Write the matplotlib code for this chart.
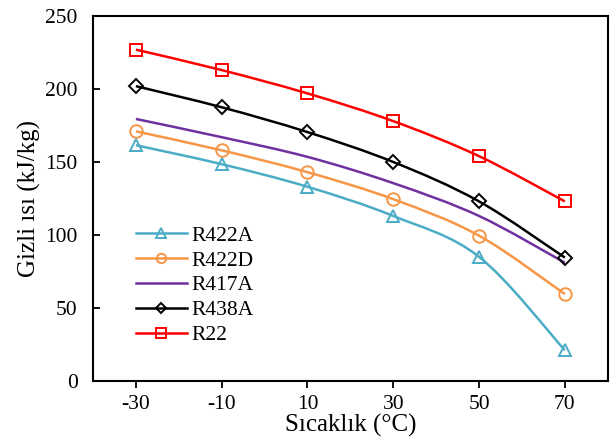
import numpy as np
import matplotlib.pyplot as plt
from matplotlib.path import Path
from matplotlib.patches import PathPatch
from matplotlib.lines import Line2D

plt.rcParams['font.family'] = ['Liberation Serif', 'DejaVu Serif']
plt.rcParams['axes.unicode_minus'] = False

temps = [-30, -10, 10, 30, 50, 70]
r422a = [161.5, 148.5, 133, 113, 85, 21]
r422d = [171, 158, 143, 124.5, 99.5, 59.5]
r417a = [179.5, 167, 153.5, 135.5, 113, 81]
r438a = [202, 187.5, 170.5, 150, 123, 84.5]
r22 = [227, 213, 197, 178, 154, 123]

series = [
    ('R422A', r422a, '#4BACC6', '^'),
    ('R422D', r422d, '#F79646', 'o'),
    ('R417A', r417a, '#7030A0', None),
    ('R438A', r438a, 'black', 'D'),
    ('R22', r22, '#FF0000', 's'),
]


def smooth_path(x, y):
    # Catmull-Rom style bezier through the points (like Excel smoothed lines)
    p = np.column_stack([x, y]).astype(float)
    verts = [p[0]]
    codes = [Path.MOVETO]
    n = len(p)
    for i in range(n - 1):
        p0 = p[i - 1] if i > 0 else p[i]
        p3 = p[i + 2] if i + 2 < n else p[i + 1]
        c1 = p[i] + (p[i + 1] - p0) / 6
        c2 = p[i + 1] - (p3 - p[i]) / 6
        verts += [c1, c2, p[i + 1]]
        codes += [Path.CURVE4] * 3
    return Path(verts, codes)


fig, ax = plt.subplots(figsize=(6.12, 4.47), dpi=100)
fig.subplots_adjust(left=0.152, right=0.993, top=0.964, bottom=0.148)

handles = []
for name, vals, color, marker in series:
    ax.add_patch(PathPatch(smooth_path(temps, vals), fill=False,
                           edgecolor=color, lw=1.8, zorder=2))
    ms = 7 if marker == 'D' else 9
    if marker:
        ax.plot(temps, vals, linestyle='none', marker=marker, ms=ms,
                mfc='none', mec=color, mew=1.4, zorder=3)
    handles.append(Line2D([], [], color=color, lw=1.8, marker=marker, ms=ms,
                          mfc='none', mec=color, mew=1.4))

ax.set_xlim(-40, 80)
ax.set_ylim(0, 250)
ax.set_xticks([-30, -10, 10, 30, 50, 70])
ax.set_yticks([0, 50, 100, 150, 200, 250])
ax.tick_params(axis='both', labelsize=15.5, width=1.3)
ax.tick_params(axis='x', direction='out', length=5, pad=5)
ax.tick_params(axis='y', direction='in', length=5, pad=11)
for s in ax.spines.values():
    s.set_linewidth(1.5)

ax.set_xlabel('Sıcaklık (°C)', fontsize=18, labelpad=0)
ax.set_ylabel('Gizli ısı (kJ/kg)', fontsize=18, labelpad=3)

ax.legend(handles, [s[0] for s in series], loc='lower left',
          bbox_to_anchor=(0.045, 0.045), frameon=False, fontsize=15.5,
          handlelength=2.4, handletextpad=0.2, labelspacing=0.22,
          markerscale=0.75)

fig.savefig('out.png', dpi=100)
